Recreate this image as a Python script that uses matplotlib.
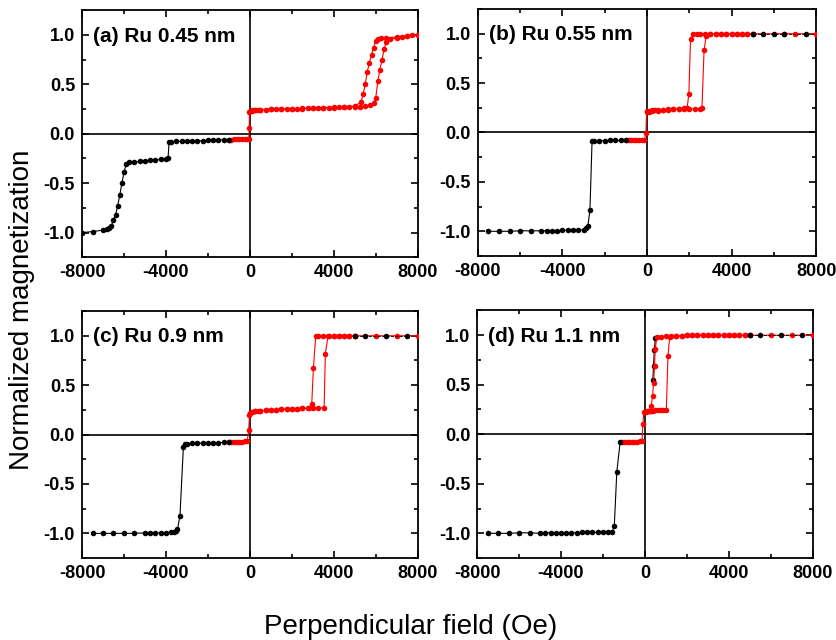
import numpy as np
import matplotlib
matplotlib.use("Agg")
import matplotlib.pyplot as plt
from matplotlib.ticker import MultipleLocator

plt.rcParams['font.family'] = ['Liberation Sans', 'DejaVu Sans']
plt.rcParams['axes.unicode_minus'] = False

# ---- data (field in Oe, normalized M) ----
# (a) Ru 0.45 nm
a_blk_x = [-8000, -7500, -7000, -6800, -6700, -6600, -6500, -6400, -6300, -6200,
           -6100, -6000, -5900, -5750, -5500, -5250, -5000, -4750, -4500, -4250,
           -4000, -3900, -3850, -3750, -3500, -3250, -3000, -2750, -2500, -2250,
           -2000, -1750, -1500, -1250, -1000]
a_blk_m = [-1.00, -0.99, -0.975, -0.965, -0.955, -0.93, -0.87, -0.82, -0.73, -0.62,
           -0.50, -0.39, -0.31, -0.29, -0.285, -0.28, -0.275, -0.27, -0.265, -0.26,
           -0.255, -0.25, -0.085, -0.08, -0.078, -0.076, -0.075, -0.073, -0.072, -0.07,
           -0.068, -0.066, -0.064, -0.062, -0.06]
a_up_x = [-1000, -875, -750, -625, -500, -375, -250, -125, -50, -30,
          -20, 0, 125, 250, 375, 500, 750, 1000, 1250, 1500,
          1750, 2000, 2250, 2500, 2750, 3000, 3250, 3500, 3750, 4000,
          4250, 4500, 4750, 5000, 5250, 5500, 5750, 5900, 6000, 6100,
          6200, 6300, 6400, 6500, 6700, 7000, 7250, 7500, 7750, 8000]
a_up_m = [-0.06, -0.059, -0.058, -0.058, -0.057, -0.057, -0.056, -0.055, -0.05, 0.06,
          0.22, 0.235, 0.238, 0.24, 0.242, 0.245, 0.245, 0.248, 0.25, 0.25,
          0.252, 0.255, 0.255, 0.256, 0.258, 0.26, 0.26, 0.262, 0.263, 0.265,
          0.266, 0.268, 0.27, 0.27, 0.275, 0.28, 0.29, 0.31, 0.36, 0.53,
          0.65, 0.75, 0.855, 0.925, 0.955, 0.97, 0.98, 0.99, 0.995, 1.0]
a_dn_x = [8000, 7500, 7000, 6500, 6250, 6100, 6000, 5900, 5800, 5700,
          5600, 5500, 5400, 5300, 5000, 4500, 4000, 3500, 3000, 2500,
          2000, 1500, 1000, 500, 250, 100]
a_dn_m = [1.0, 0.99, 0.98, 0.97, 0.965, 0.96, 0.94, 0.87, 0.80, 0.72,
          0.63, 0.50, 0.40, 0.32, 0.28, 0.275, 0.27, 0.265, 0.26, 0.255,
          0.255, 0.25, 0.25, 0.245, 0.24, 0.235]
a_spr_x = []
a_spr_m = []

# (b) Ru 0.55 nm
b_blk_x = [-7500, -7000, -6500, -6000, -5500, -5000, -4750, -4500, -4250, -4000,
           -3750, -3500, -3250, -3000, -2900, -2800, -2700, -2600, -2500, -2250,
           -2000, -1750, -1500, -1250, -1000]
b_blk_m = [-1.0, -1.0, -1.0, -0.995, -0.995, -0.995, -0.995, -0.995, -0.995, -0.99,
           -0.99, -0.99, -0.99, -0.985, -0.97, -0.95, -0.785, -0.09, -0.085, -0.085,
           -0.082, -0.08, -0.08, -0.08, -0.08]
b_up_x = [-1000, -875, -750, -625, -500, -375, -250, -125, -50, -20,
          0, 125, 250, 375, 500, 750, 1000, 1250, 1500, 1750,
          2000, 2250, 2500, 2600, 2700, 2800, 3000, 3250, 3500, 3750,
          4000, 4250, 4500, 4750, 5000]
b_up_m = [-0.08, -0.079, -0.078, -0.078, -0.078, -0.077, -0.077, -0.075, -0.01, 0.21,
          0.22, 0.222, 0.225, 0.228, 0.23, 0.23, 0.235, 0.235, 0.24, 0.24,
          0.24, 0.24, 0.24, 0.245, 0.83, 0.98, 1.0, 1.0, 1.0, 1.0,
          1.0, 1.0, 1.0, 1.0, 1.0]
b_dn_x = [8000, 7000, 6500, 5000, 4750, 4500, 4250, 4000, 3750, 3500,
          3250, 3000, 2750, 2500, 2350, 2200, 2060, 1980, 1900, 1750,
          1500, 1250, 1000, 750, 500, 250, 100]
b_dn_m = [1.0, 1.0, 1.0, 1.0, 1.0, 1.0, 1.0, 1.0, 1.0, 1.0,
          1.0, 1.0, 1.0, 1.0, 1.0, 1.0, 0.95, 0.39, 0.25, 0.245,
          0.24, 0.235, 0.23, 0.225, 0.22, 0.215, 0.21]
b_spr_x = [5000, 5500, 6000, 6500, 7500]
b_spr_m = [1.0, 1.0, 1.0, 1.0, 1.0]

# (c) Ru 0.9 nm
c_blk_x = [-7500, -7000, -6500, -6000, -5500, -5000, -4750, -4500, -4250, -4000,
           -3750, -3600, -3500, -3450, -3330, -3170, -3100, -3000, -2750, -2500,
           -2250, -2000, -1750, -1500, -1250, -1000]
c_blk_m = [-1.0, -1.0, -1.0, -1.0, -1.0, -0.995, -0.995, -0.995, -0.995, -0.995,
           -0.99, -0.99, -0.98, -0.96, -0.82, -0.13, -0.095, -0.092, -0.09, -0.088,
           -0.086, -0.085, -0.083, -0.082, -0.08, -0.078]
c_up_x = [-1000, -875, -750, -625, -500, -375, -250, -125, -50, -20,
          0, 125, 250, 375, 500, 750, 1000, 1250, 1500, 1750,
          2000, 2250, 2500, 2750, 3000, 3250, 3540, 3600, 3730, 4000,
          4250, 4500, 4750, 5000]
c_up_m = [-0.078, -0.077, -0.075, -0.074, -0.072, -0.071, -0.07, -0.067, 0.05, 0.20,
          0.22, 0.23, 0.235, 0.238, 0.24, 0.245, 0.25, 0.252, 0.255, 0.258,
          0.26, 0.262, 0.265, 0.265, 0.265, 0.27, 0.27, 0.82, 1.0, 1.0,
          1.0, 1.0, 1.0, 1.0]
c_dn_x = [8000, 7000, 6000, 5000, 4750, 4500, 4250, 4000, 3750, 3500,
          3250, 3140, 3030, 2950, 2840, 2500, 2250, 2000, 1750, 1500,
          1250, 1000, 750, 500, 250, 100]
c_dn_m = [1.0, 1.0, 1.0, 1.0, 1.0, 1.0, 1.0, 1.0, 1.0, 1.0,
          1.0, 1.0, 0.67, 0.31, 0.27, 0.265, 0.262, 0.26, 0.258, 0.255,
          0.252, 0.25, 0.245, 0.24, 0.235, 0.23]
c_spr_x = [5000, 5500, 6500, 7500]
c_spr_m = [1.0, 1.0, 1.0, 1.0]

# (d) Ru 1.1 nm
d_blk_x = [-7500, -7000, -6500, -6000, -5500, -5000, -4750, -4500, -4250, -4000,
           -3750, -3500, -3250, -3000, -2750, -2500, -2250, -2000, -1750, -1570,
           -1460, -1340, -1180]
d_blk_m = [-1.0, -1.0, -1.0, -0.995, -0.995, -1.0, -0.995, -0.995, -0.995, -0.995,
           -0.995, -0.995, -0.995, -0.99, -0.99, -0.99, -0.99, -0.99, -0.99, -0.985,
           -0.93, -0.38, -0.08]
d_up_x = [-1100, -1000, -875, -750, -625, -500, -375, -250, -140, -100,
          -50, 0, 100, 200, 300, 400, 500, 625, 750, 875,
          1020, 1100, 1180, 1500, 1750, 2000, 2250, 2500, 2750, 3000,
          3250, 3500, 3750, 4000, 4250, 4500, 4750, 5000]
d_up_m = [-0.08, -0.078, -0.078, -0.077, -0.076, -0.075, -0.074, -0.072, -0.07, 0.1,
          0.22, 0.225, 0.23, 0.235, 0.235, 0.238, 0.24, 0.24, 0.24, 0.242,
          0.245, 0.79, 0.98, 0.99, 0.995, 1.0, 1.0, 1.0, 1.0, 1.0,
          1.0, 1.0, 1.0, 1.0, 1.0, 1.0, 1.0, 1.0]
d_dn_x = [8000, 7000, 6000, 5000, 4750, 4500, 4250, 4000, 3750, 3500,
          3250, 3000, 2750, 2500, 2250, 2000, 1750, 1500, 1250, 1000,
          750, 570, 490, 460, 410, 370, 300, 250, 150, 50]
d_dn_m = [1.0, 1.0, 1.0, 1.0, 1.0, 1.0, 1.0, 1.0, 1.0, 1.0,
          1.0, 1.0, 1.0, 1.0, 1.0, 1.0, 0.995, 0.995, 0.99, 0.99,
          0.985, 0.98, 0.86, 0.69, 0.52, 0.39, 0.29, 0.235, 0.23, 0.225]
d_spr_x = [5000, 5500, 6500, 7500]
d_spr_m = [1.0, 1.0, 1.0, 1.0]
d_blk2_x = [380, 410, 450, 500]
d_blk2_m = [0.55, 0.69, 0.85, 0.97]

labels = ['(a) Ru 0.45 nm', '(b) Ru 0.55 nm', '(c) Ru 0.9 nm', '(d) Ru 1.1 nm']
panels = [
    (a_blk_x, a_blk_m, a_up_x, a_up_m, a_dn_x, a_dn_m, a_spr_x, a_spr_m),
    (b_blk_x, b_blk_m, b_up_x, b_up_m, b_dn_x, b_dn_m, b_spr_x, b_spr_m),
    (c_blk_x, c_blk_m, c_up_x, c_up_m, c_dn_x, c_dn_m, c_spr_x, c_spr_m),
    (d_blk_x, d_blk_m, d_up_x, d_up_m, d_dn_x, d_dn_m, d_spr_x, d_spr_m),
]

# axes boxes [left, bottom, width, height] in figure fractions
boxes = [[0.098, 0.598, 0.401, 0.386],
         [0.571, 0.600, 0.404, 0.386],
         [0.098, 0.128, 0.401, 0.386],
         [0.570, 0.128, 0.401, 0.387]]

fig = plt.figure(figsize=(8.37, 6.40), dpi=100)

sty = dict(marker='o', ms=4, mew=0)

for i, (bx, bm, ux, um, dx, dm, sx, sm) in enumerate(panels):
    ax = fig.add_axes(boxes[i])
    ax.axhline(0, color='black', lw=1.2, zorder=1)
    ax.axvline(0, color='black', lw=1.2, zorder=1)

    ax.plot(dx, dm, color='red', lw=0.8, zorder=3, **sty)
    ax.plot(ux, um, color='red', lw=0.8, zorder=3, **sty)
    ax.plot(bx, bm, color='black', lw=0.8, zorder=4, **sty)
    if sx:
        ax.plot(sx, sm, color='black', lw=0.6, ls='--', zorder=4, **sty)
    if i == 3:
        ax.plot(d_blk2_x, d_blk2_m, color='black', lw=0.8, zorder=2, **sty)

    ax.set_xlim(-8000, 8000)
    ax.set_ylim(-1.25, 1.25)
    ax.set_xticks([-8000, -4000, 0, 4000, 8000])
    ax.set_yticks([-1.0, -0.5, 0.0, 0.5, 1.0])
    ax.set_yticklabels(['-1.0', '-0.5', '0.0', '0.5', '1.0'])
    ax.xaxis.set_minor_locator(MultipleLocator(2000))
    ax.yaxis.set_minor_locator(MultipleLocator(0.25))
    ax.tick_params(which='both', direction='in', top=True, right=True, width=1.2)
    ax.tick_params(which='major', length=5, labelsize=13, pad=5)
    ax.tick_params(which='minor', length=3)
    for t in ax.get_xticklabels() + ax.get_yticklabels():
        t.set_fontweight('bold')
    for s in ax.spines.values():
        s.set_linewidth(1.3)

    ax.text(0.033, 0.895, labels[i], transform=ax.transAxes, fontsize=15,
            fontweight='bold', va='center', ha='left')

fig.text(0.49, 1 - 627 / 640, 'Perpendicular field (Oe)', fontsize=20,
         ha='center', va='center')
fig.text(0.026, 1 - 310 / 640, 'Normalized magnetization', fontsize=20,
         rotation=90, ha='center', va='center')

fig.savefig('out.png', dpi=100)
